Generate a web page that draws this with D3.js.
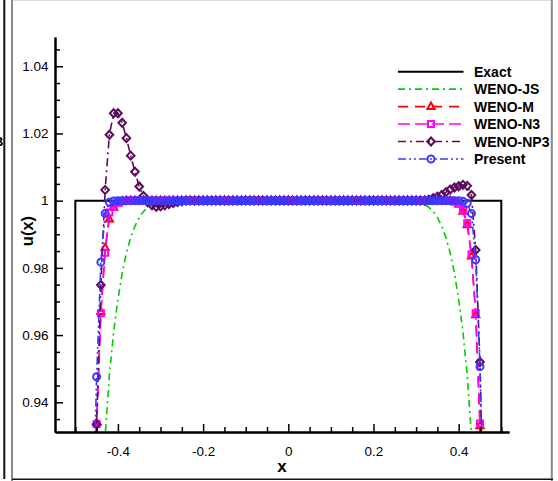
<!DOCTYPE html>
<html><head><meta charset="utf-8">
<script src="https://cdn.jsdelivr.net/npm/d3@7"></script>
<style>
body{margin:0;background:#fff}
svg{display:block;font-family:"Liberation Sans",Arial,Helvetica,sans-serif}
</style>
</head><body>
<svg id="c" width="558" height="481"></svg>
<script>
// ---------- data ----------
const xs = [-0.47,-0.46,-0.45,-0.44,-0.43,-0.42,-0.41,-0.40,-0.39,-0.38,
 -0.37,-0.36,-0.35,-0.34,-0.33,-0.32,-0.31,-0.30,-0.29,-0.28,
 -0.27,-0.26,-0.25,-0.24,-0.23,-0.22,-0.21,-0.20,-0.19,-0.18,
 -0.17,-0.16,-0.15,-0.14,-0.13,-0.12,-0.11,-0.10,-0.09,-0.08,
 -0.07,-0.06,-0.05,-0.04,-0.03,-0.02,-0.01,0.00,0.01,0.02,
 0.03,0.04,0.05,0.06,0.07,0.08,0.09,0.10,0.11,0.12,
 0.13,0.14,0.15,0.16,0.17,0.18,0.19,0.20,0.21,0.22,
 0.23,0.24,0.25,0.26,0.27,0.28,0.29,0.30,0.31,0.32,
 0.33,0.34,0.35,0.36,0.37,0.38,0.39,0.40,0.41,0.42,
 0.43,0.44,0.45,0.46,0.47];

const exactX = [-0.5,-0.5,0.5,0.5];
const exactY = [0.9,1,1,0.9];

const wenoJS = [0.80,0.84,0.875,0.905,0.930,0.948,0.961,0.9705,0.9785,0.9845,
 0.9890,0.9924,0.9950,0.9968,0.9980,0.9988,0.9993,0.9996,0.9998,0.9999,
 1,1,1,1,1,1,1,1,1,1,
 1,1,1,1,1,1,1,1,1,1,
 1,1,1,1,1,1,1,1,1,1,
 1,1,1,1,1,1,1,1,1,1,
 1,1,1,1,1,1,1,1,1,1,
 1,1,1,1,1,
 0.9999,0.9998,0.9996,0.9993,0.9988,0.9980,0.9968,0.9950,0.9924,0.9890,
 0.9845,0.9785,0.9705,0.961,0.948,0.930,0.905,0.875,0.84,0.80];

const wenoM = [0.80,0.88,0.934,0.967,0.986,0.9945,0.998,0.9993,0.9998,
 1,1,1,1,1,1,1,1,1,1,
 1,1,1,1,1,1,1,1,1,1,
 1,1,1,1,1,1,1,1,1,1,
 1,1,1,1,1,1,1,1,1,1,
 1,1,1,1,1,1,1,1,1,1,
 1,1,1,1,1,1,1,1,1,1,
 1,1,1,1,1,1,1,1,1,1,
 1,1,1,1,1,1,1,
 0.9997,0.9990,0.9968,0.9928,0.9835,0.9660,0.9330,0.88,0.80];

const wenoN3 = [0.80,0.88,0.9335,0.9665,0.9845,0.9965,0.9982,0.9994,0.9998,
 1,1,1,1,1,1,1,1,1,1,
 1,1,1,1,1,1,1,1,1,1,
 1,1,1,1,1,1,1,1,1,1,
 1,1,1,1,1,1,1,1,1,1,
 1,1,1,1,1,1,1,1,1,1,
 1,1,1,1,1,1,1,1,1,1,
 1,1,1,1,1,1,1,1,1,1,
 1,1,1,1,1,1,1,
 0.9997,0.9991,0.9972,0.9933,0.9840,0.9665,0.9337,0.88,0.80];

const wenoNP3 = [0.78,0.87,0.9335,0.9749,1.0032,1.0196,1.026,1.026,1.0232,1.0186,
 1.0134,1.0086,1.0042,1.0014,0.9995,0.9986,0.9982,0.9983,0.9986,0.9990,
 0.9993,0.9996,0.9998,
 1,1,1,1,1,1,1,1,1,1,
 1,1,1,1,1,1,1,1,1,1,
 1,1,1,1,1,1,1,1,1,1,
 1,1,1,1,1,1,1,1,1,1,
 1,1,1,1,1,1,1,1,1,1,
 1,1,1,1,1,1,1,
 1.0003,1.0007,1.0012,1.0017,1.0025,1.0033,1.0039,1.0043,1.0047,1.0044,
 1.0017,0.9853,0.952,0.89,0.80];

const present = [0.82,0.90,0.9476,0.9817,0.9962,0.9995,0.9999,
 1,1,1,1,1,1,1,1,1,1,
 1,1,1,1,1,1,1,1,1,1,
 1,1,1,1,1,1,1,1,1,1,
 1,1,1,1,1,1,1,1,1,1,
 1,1,1,1,1,1,1,1,1,1,
 1,1,1,1,1,1,1,1,1,1,
 1,1,1,1,1,1,1,1,1,1,
 1,1,1,1,1,1,1,1,1,1,
 1,
 0.9998,0.9992,0.9962,0.9824,0.9506,0.90,0.82];

const legendLabels = ["Exact","WENO-JS","WENO-M","WENO-N3","WENO-NP3","Present"];
const xMajorTicks = [-0.4,-0.2,0,0.2,0.4];
const xMinorTicks = [-0.5,-0.45,-0.35,-0.3,-0.25,-0.15,-0.1,-0.05,0.05,0.1,0.15,0.25,0.3,0.35,0.45,0.5];
const yMajorTicks = [0.94,0.96,0.98,1,1.02,1.04];
const yMinorTicks = [0.935,0.945,0.95,0.955,0.965,0.97,0.975,0.985,0.99,0.995,1.005,1.01,1.015,1.025,1.03,1.035,1.045];

[wenoJS,wenoM,wenoN3,wenoNP3,present].forEach((a,i)=>{ if(a.length!==xs.length) throw new Error("len mismatch "+i+" "+a.length); });

// ---------- layout ----------
const svg = d3.select("#c");
const L=55, R=509, T=37, B=432;
const x = d3.scaleLinear().domain([-0.5477,0.5181]).range([L,R]);
const y = d3.scaleLinear().domain([0.93116,1.0487]).range([B,T]);

// frame artifacts of the screenshot
svg.append("line").attr("x1",4.3).attr("x2",4.3).attr("y1",0).attr("y2",479).attr("stroke","#111").attr("stroke-width",2);
svg.append("line").attr("x1",12).attr("x2",12).attr("y1",0).attr("y2",481).attr("stroke","#8a8a8a").attr("stroke-width",2);
svg.append("line").attr("x1",13).attr("x2",551).attr("y1",0.5).attr("y2",0.5).attr("stroke","#ddd").attr("stroke-width",1);
svg.append("line").attr("x1",551.8).attr("x2",551.8).attr("y1",0).attr("y2",481).attr("stroke","#8a8a8a").attr("stroke-width",2);
svg.append("line").attr("x1",12).attr("x2",553).attr("y1",479.2).attr("y2",479.2).attr("stroke","#111").attr("stroke-width",1.6);
svg.append("text").attr("x",-6).attr("y",146).attr("font-size",13).attr("font-weight","bold").text("B");

svg.append("defs").append("clipPath").attr("id","clip")
  .append("rect").attr("x",L).attr("y",T).attr("width",R-L).attr("height",B-T);

const plot = svg.append("g").attr("clip-path","url(#clip)");

const series = [
  {name:"Exact", xv:exactX, yv:exactY, color:"#000", w:2, dash:null, marker:null},
  {name:"WENO-JS", xv:xs, yv:wenoJS, color:"#00cc00", w:1.6, dash:"7,4,2,4", marker:null},
  {name:"WENO-M", xv:xs, yv:wenoM, color:"#ff0000", w:1.6, dash:"10,7", marker:"triangle"},
  {name:"WENO-N3", xv:xs, yv:wenoN3, color:"#ff00ff", w:1.6, dash:"12,5", marker:"square"},
  {name:"WENO-NP3", xv:xs, yv:wenoNP3, color:"#5c0a5c", w:1.6, dash:"8,4,2,4", marker:"diamond"},
  {name:"Present", xv:xs, yv:present, color:"#3a3aff", w:1.6, dash:"8,3,2,3,2,3", marker:"circle"}
];

const line = d3.line().x(d=>x(d[0])).y(d=>y(d[1]));

function drawMarker(g, m, cx, cy, color){
  let p;
  if(m==="circle"){
    p = g.append("circle").attr("cx",cx).attr("cy",cy).attr("r",3.5);
  } else if(m==="triangle"){
    p = g.append("path").attr("d",`M${cx},${cy-4}L${cx+3.6},${cy+2.4}L${cx-3.6},${cy+2.4}Z`);
  } else if(m==="square"){
    p = g.append("rect").attr("x",cx-3).attr("y",cy-3).attr("width",6).attr("height",6);
  } else {
    p = g.append("path").attr("d",`M${cx},${cy-4}L${cx+3.8},${cy}L${cx},${cy+4}L${cx-3.8},${cy}Z`);
  }
  p.attr("fill","none").attr("stroke",color).attr("stroke-width",2);
}

series.forEach(s=>{
  const pts = s.xv.map((v,i)=>[v,s.yv[i]]);
  plot.append("path").datum(pts).attr("d",line).attr("fill","none")
    .attr("stroke",s.color).attr("stroke-width",s.w)
    .attr("stroke-dasharray",s.dash);
  if(s.marker){
    const g = plot.append("g");
    pts.forEach(p=>drawMarker(g,s.marker,x(p[0]),y(p[1]),s.color));
  }
});

// ---------- axes ----------
const ax = svg.append("g").attr("transform",`translate(0,${B})`);
ax.call(d3.axisBottom(x).tickValues(xMinorTicks).tickSize(-5).tickSizeOuter(0).tickFormat(""));
const ax2 = svg.append("g").attr("transform",`translate(0,${B})`)
  .call(d3.axisBottom(x).tickValues(xMajorTicks).tickSize(-8).tickSizeOuter(0).tickPadding(14)
    .tickFormat(d=>d===0?"0":d.toFixed(1)));
const ay = svg.append("g").attr("transform",`translate(${L},0)`);
ay.call(d3.axisLeft(y).tickValues(yMinorTicks).tickSize(-5).tickSizeOuter(0).tickFormat(""));
const ay2 = svg.append("g").attr("transform",`translate(${L},0)`)
  .call(d3.axisLeft(y).tickValues(yMajorTicks).tickSize(-8).tickSizeOuter(0).tickPadding(6.5)
    .tickFormat(d=>d===1?"1":d.toFixed(2)));
[ax,ax2,ay,ay2].forEach(g=>{
  g.selectAll(".domain").attr("stroke","#000").attr("stroke-width",2);
  g.selectAll(".tick line").attr("stroke","#000").attr("stroke-width",1.5);
  g.selectAll(".tick text").attr("font-size",13.5).attr("fill","#000")
    .attr("font-family",'"Liberation Sans",Arial,sans-serif');
});

svg.append("text").attr("x",282).attr("y",472).attr("text-anchor","middle")
  .attr("font-size",17).attr("font-weight","bold").text("x");
svg.append("text").attr("transform","translate(33,231) rotate(-90)").attr("text-anchor","middle")
  .attr("font-size",16.5).attr("font-weight","bold").text("u(x)");

// ---------- legend ----------
const lg = svg.append("g");
series.forEach((s,i)=>{
  const yy = 71.7 + i*17.45;
  lg.append("line").attr("x1",398).attr("x2",463.5).attr("y1",yy).attr("y2",yy)
    .attr("stroke",s.color).attr("stroke-width",s.w).attr("stroke-dasharray",s.dash);
  if(s.marker) drawMarker(lg,s.marker,431,yy,s.color);
  lg.append("text").attr("x",474).attr("y",yy).attr("dy","0.36em")
    .attr("font-size",14).attr("font-weight","bold").text(legendLabels[i]);
});
</script>
</body></html>
